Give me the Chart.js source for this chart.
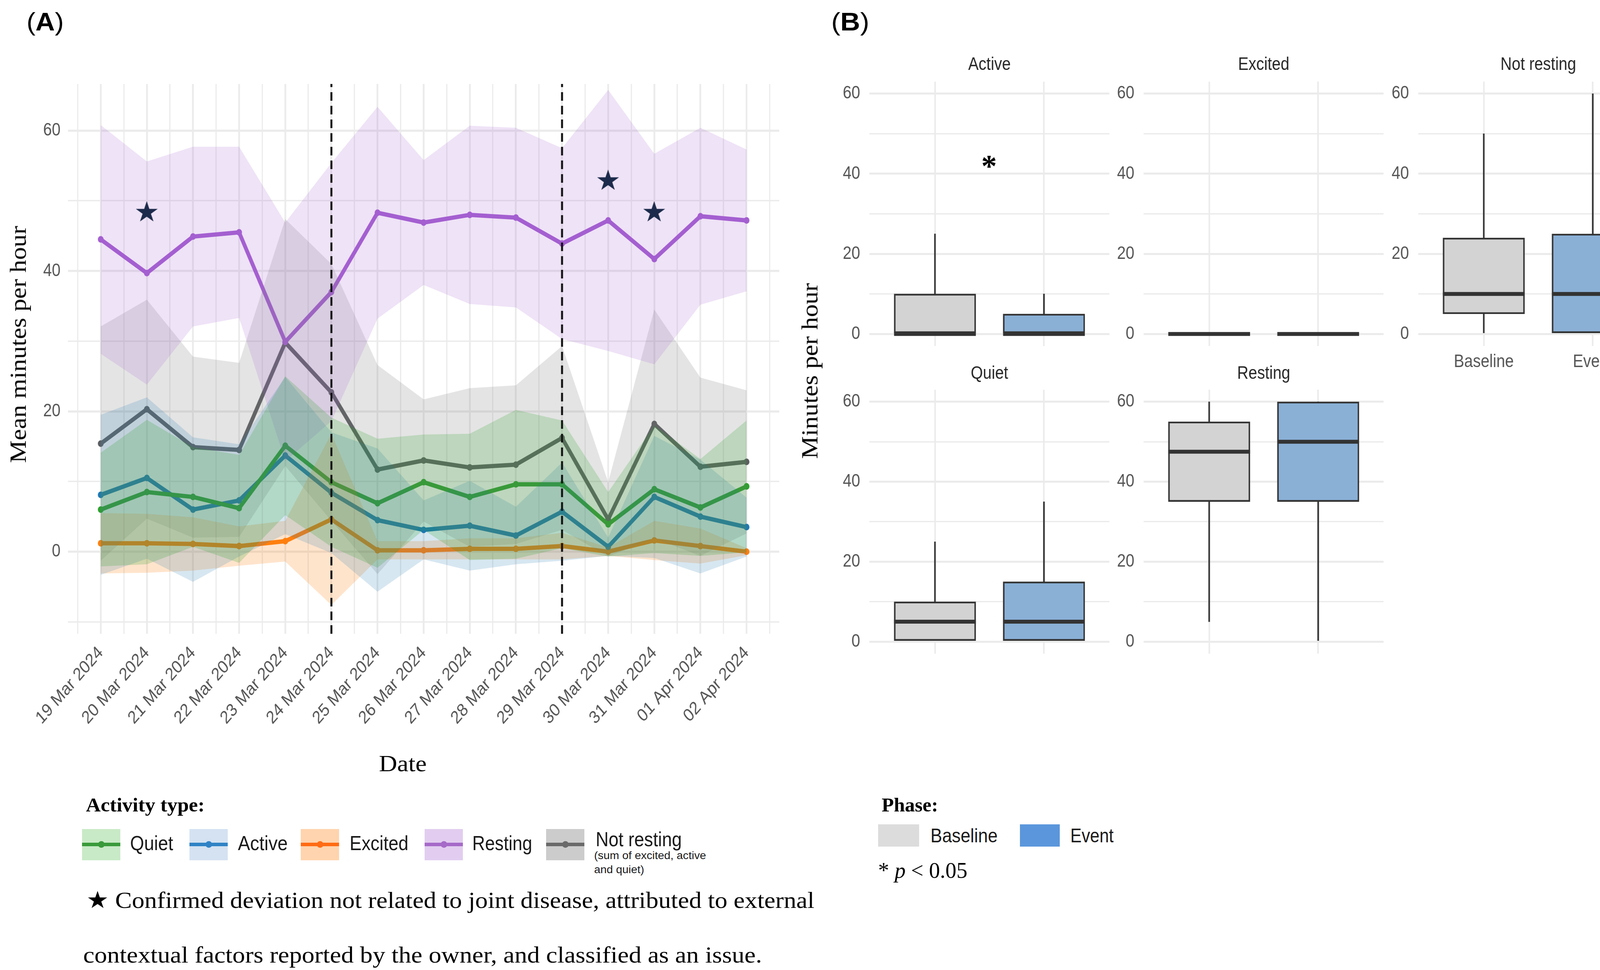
<!DOCTYPE html>
<html><head><meta charset="utf-8">
<script src="https://cdn.jsdelivr.net/npm/chart.js@4.4.1/dist/chart.umd.min.js"></script>
<style>
html,body{margin:0;padding:0;background:#fff;width:4255px;height:2484px;overflow:hidden;}
#root{position:relative;width:4255px;height:2484px;overflow:hidden;background:#fff;}
.sq{position:absolute;transform-origin:0 0;}
.t{position:absolute;white-space:nowrap;line-height:1.2;transform-origin:0 0;}
.bm{display:inline-block;width:0;height:0;vertical-align:baseline;}
.sw{position:absolute;}
</style></head>
<body><div id="root"></div>
<script>
// ---------------- DATA ----------------
const dates = ['19 Mar 2024','20 Mar 2024','21 Mar 2024','22 Mar 2024','23 Mar 2024','24 Mar 2024','25 Mar 2024','26 Mar 2024','27 Mar 2024','28 Mar 2024','29 Mar 2024','30 Mar 2024','31 Mar 2024','01 Apr 2024','02 Apr 2024'];

const quietMean  = [6.0, 8.5, 7.8, 6.2, 15.1, 9.9, 6.9, 9.9, 7.8, 9.6, 9.6, 3.9, 8.9, 6.3, 9.3];
const quietUpper = [14.1, 18.8, 14.9, 13.8, 25.0, 19.1, 16.1, 16.7, 16.8, 20.2, 18.7, 8.5, 18.0, 13.2, 18.7];
const quietLower = [-2.1, -1.8, 0.7, -1.6, 5.2, 0.7, -2.3, 3.1, -1.2, -1.0, 0.5, -0.7, -0.2, -0.6, -0.1];

const activeMean  = [8.1, 10.5, 6.0, 7.3, 13.7, 8.4, 4.5, 3.1, 3.7, 2.3, 5.7, 0.7, 7.8, 5.0, 3.5];
const activeUpper = [19.5, 22.0, 16.3, 15.3, 24.9, 17.0, 14.7, 7.3, 10.1, 6.4, 12.7, 2.0, 16.5, 13.1, 7.7];
const activeLower = [-3.3, -1.0, -4.3, -0.7, 2.5, -0.2, -5.7, -1.1, -2.7, -1.8, -1.3, -0.6, -0.9, -3.1, -0.7];

const excitedMean  = [1.2, 1.2, 1.1, 0.8, 1.5, 4.6, 0.2, 0.2, 0.4, 0.4, 0.8, 0.0, 1.6, 0.8, 0.0];
const excitedUpper = [5.5, 5.4, 4.9, 3.6, 4.4, 16.8, 1.5, 1.5, 1.9, 1.9, 2.7, 0.6, 4.4, 3.3, 0.5];
const excitedLower = [-3.1, -3.0, -2.7, -2.0, -1.4, -7.6, -1.1, -1.1, -1.1, -1.1, -1.1, -0.6, -1.2, -1.7, -0.5];

const restingMean  = [44.5, 39.7, 44.9, 45.5, 29.9, 37.0, 48.3, 46.9, 48.0, 47.6, 43.9, 47.2, 41.7, 47.8, 47.2];
const restingUpper = [60.8, 55.6, 57.7, 57.7, 46.9, 55.4, 63.4, 55.8, 60.7, 60.4, 57.5, 65.8, 56.7, 60.4, 57.3];
const restingLower = [28.2, 23.8, 32.1, 33.3, 12.9, 18.6, 33.2, 38.0, 35.3, 34.8, 30.3, 28.6, 26.7, 35.2, 37.1];

const notRestMean  = [15.4, 20.3, 14.9, 14.5, 29.8, 22.7, 11.7, 13.0, 12.0, 12.4, 16.2, 4.6, 18.2, 12.1, 12.8];
const notRestUpper = [32.1, 35.9, 27.8, 26.9, 47.4, 41.0, 26.6, 21.7, 23.3, 23.7, 29.3, 9.9, 34.5, 24.8, 23.0];
const notRestLower = [-1.3, 4.7, 2.0, 2.1, 12.2, 4.4, -3.2, 4.3, 0.7, 1.1, 3.1, -0.7, 1.9, -0.6, 2.6];

const eventDayIdx = [5, 10];          // dashed reference lines (24 Mar, 29 Mar)
const starDayIdx  = [1, 11, 12];      // 20 Mar, 30 Mar, 31 Mar
const starValues  = [48.5, 53.0, 48.5];

const yTicksA = [0, 20, 40, 60];

// Panel B box statistics: [min, Q1, median, Q3, max]
const phases = ['Baseline', 'Event'];
const activeBaseline   = [0, 0, 0, 10, 25];
const activeEvent      = [0, 0, 0, 5, 10];
const excitedBaseline  = [0, 0, 0, 0, 0];
const excitedEvent     = [0, 0, 0, 0, 0];
const notRestBaseline  = [0, 5, 10, 24, 50];
const notRestEvent     = [0, 0, 10, 25, 60];
const quietBaseline    = [0, 0, 5, 10, 25];
const quietEvent       = [0, 0, 5, 15, 35];
const restingBaseline  = [5, 35, 47.5, 55, 60];
const restingEvent     = [0, 35, 50, 60, 60];
const yTicksB = [0, 20, 40, 60];

// ---------------- STYLE / LAYOUT ----------------
const S = 0.87; // horizontal compression of the plotted figure
const SANS = "'Liberation Sans', Arial, sans-serif";
const SERIF = "'Liberation Serif', 'DejaVu Serif', serif";
const root = document.getElementById('root');
const GRID = '#ebebeb';

function makeCanvas(leftFull, topFull, wU, h) {
  const wrap = document.createElement('div');
  wrap.className = 'sq';
  wrap.style.left = leftFull + 'px'; wrap.style.top = topFull + 'px';
  wrap.style.width = wU + 'px'; wrap.style.height = h + 'px';
  wrap.style.transform = 'scaleX(' + S + ')';
  const c = document.createElement('canvas');
  c.width = wU; c.height = h;
  c.style.width = wU + 'px'; c.style.height = h + 'px';
  wrap.appendChild(c); root.appendChild(wrap);
  return c;
}

function starImage(w, h, color) {
  const c = document.createElement('canvas');
  c.width = Math.ceil(w); c.height = Math.ceil(h);
  const g = c.getContext('2d');
  g.fillStyle = color; g.beginPath();
  for (let i = 0; i < 10; i++) {
    const ang = -Math.PI / 2 + i * Math.PI / 5;
    const rr = i % 2 === 0 ? 1 : 0.382;
    const px = Math.cos(ang) * rr, py = Math.sin(ang) * rr;
    const X = (px + 0.951) / 1.902 * w, Y = (py + 1) / 1.809 * h;
    if (i) g.lineTo(X, Y); else g.moveTo(X, Y);
  }
  g.closePath(); g.fill();
  return c;
}

// ---------------- PANEL A ----------------
(function () {
  const wU = Math.ceil(2050 / S), H = 1900;
  const left = 174 / S, right = 1995 / S, top = 215, bottom = 1623;
  const yMin = -11.7, yMax = 66.65, xMin = -0.71, xMax = 14.71;
  const canvas = makeCanvas(0, 0, wU, H);
  const pts = arr => arr.map((v, i) => ({ x: i, y: v }));
  const series = [
    { mean: quietMean,   up: quietUpper,   lo: quietLower,   color: '#2ca02c', fill: 'rgba(44,160,44,0.21)' },
    { mean: activeMean,  up: activeUpper,  lo: activeLower,  color: '#1f78b4', fill: 'rgba(31,120,180,0.18)' },
    { mean: excitedMean, up: excitedUpper, lo: excitedLower, color: '#ff7f0e', fill: 'rgba(255,127,14,0.21)' },
    { mean: restingMean, up: restingUpper, lo: restingLower, color: '#a45fd0', fill: 'rgba(164,95,208,0.175)' },
    { mean: notRestMean, up: notRestUpper, lo: notRestLower, color: '#5b5d60', fill: 'rgba(127,127,127,0.21)' }
  ];
  const ds = [];
  ds.push({ type: 'scatter', data: starDayIdx.map((d, i) => ({ x: d, y: starValues[i] })),
            pointStyle: starImage(56 / S, 52, '#1c2b4b'), pointRadius: 20, order: 0 });
  eventDayIdx.forEach(d => ds.push({ type: 'line', data: [{ x: d, y: yMin }, { x: d, y: yMax }],
            borderColor: '#111', borderWidth: 5 / S, borderDash: [22, 13], pointRadius: 0, fill: false, order: 0 }));
  series.forEach(s => {
    ds.push({ type: 'line', data: pts(s.up), fill: '+1', backgroundColor: s.fill, borderColor: 'transparent',
              borderWidth: 0, pointRadius: 0, order: 1 });
    ds.push({ type: 'line', data: pts(s.lo), fill: false, borderColor: 'transparent', borderWidth: 0, pointRadius: 0, order: 1 });
  });
  series.forEach(s => ds.push({ type: 'line', data: pts(s.mean), borderColor: s.color, borderWidth: 11,
            pointRadius: 8.5, pointBackgroundColor: s.color, pointBorderWidth: 0, fill: false, order: 2, tension: 0 }));

  new Chart(canvas, {
    type: 'line',
    data: { datasets: ds },
    options: {
      responsive: false, animation: false, devicePixelRatio: 1, events: [],
      layout: { autoPadding: false, padding: { left: 0, top: top, right: wU - right, bottom: 0 } },
      plugins: { legend: { display: false }, tooltip: { enabled: false }, title: { display: false } },
      scales: {
        x: { type: 'linear', min: xMin, max: xMax, offset: false,
             grid: { color: GRID, drawTicks: false, offset: false,
                     lineWidth: c => (c.tick && Number.isInteger(c.tick.value)) ? 4.5 / S : 3 / S },
             border: { display: false },
             ticks: { stepSize: 0.5, includeBounds: false, autoSkip: false, minRotation: 45, maxRotation: 45,
                      padding: 22, color: '#555', font: { family: SANS, size: 46 },
                      callback: v => Number.isInteger(v) ? dates[v] : '' },
             afterFit: s => { s.height = H - bottom; } },
        y: { type: 'linear', min: yMin, max: yMax,
             grid: { color: GRID, drawTicks: false,
                     lineWidth: c => (c.tick && yTicksA.includes(c.tick.value)) ? 5.5 : 3.5 },
             border: { display: false },
             ticks: { stepSize: 10, includeBounds: false, padding: 19 / S, color: '#555',
                      font: { family: SANS, size: 46 },
                      callback: v => yTicksA.includes(v) ? String(v) : '' },
             afterFit: s => { s.width = left; } }
      }
    }
  });
})();

// ---------------- PANEL B ----------------
const facets = [
  { name: 'Active',      base: activeBaseline,  ev: activeEvent,  pl: 2226, pt: 209, pb: 886,  ty: 166, xlab: false },
  { name: 'Excited',     base: excitedBaseline, ev: excitedEvent, pl: 2928, pt: 209, pb: 886,  ty: 166, xlab: false },
  { name: 'Not resting', base: notRestBaseline, ev: notRestEvent, pl: 3631, pt: 209, pb: 886,  ty: 166, xlab: true },
  { name: 'Quiet',       base: quietBaseline,   ev: quietEvent,   pl: 2226, pt: 998, pb: 1674, ty: 957, xlab: false },
  { name: 'Resting',     base: restingBaseline, ev: restingEvent, pl: 2928, pt: 998, pb: 1674, ty: 957, xlab: false }
];
facets.forEach(f => {
  const PW = 614, LM = 110, RM = 10, TM = 100, BM = 80;
  const wU = Math.ceil((LM + PW + RM) / S);
  const chartLeft = LM / S, chartRight = chartLeft + PW / S;
  const H = TM + (f.pb - f.pt) + BM;
  const canvas = makeCanvas(f.pl - LM, f.pt - TM, wU, H);
  const pxPerUnit = (PW / S) / 2.2;
  const boxW = 0.75 * pxPerUnit;
  const titleRel = f.ty - (f.pt - TM);
  const lh = 46 * 1.2;
  const padTop = titleRel - lh / 2, padBot = TM - padTop - lh;
  const stats = [f.base, f.ev];
  new Chart(canvas, {
    type: 'bar',
    data: { datasets: [
      { type: 'bar', data: stats.map((s, i) => ({ x: i + 1, y: [s[0], s[4]] })), backgroundColor: '#333',
        borderWidth: 0, barThickness: 3.6 / S, grouped: false, order: 3 },
      { type: 'bar', data: stats.map((s, i) => ({ x: i + 1, y: [s[1], s[3]] })), backgroundColor: ['#d3d3d3', '#8ab0d6'],
        borderColor: '#333', borderWidth: 4.5, borderSkipped: false, barThickness: boxW, grouped: false, order: 2 },
      { type: 'scatter', data: stats.map((s, i) => ({ x: i + 1, y: s[2] })), pointStyle: 'line',
        pointRadius: boxW / 2, pointBorderWidth: 10, pointBorderColor: '#333', order: 1 }
    ] },
    options: {
      responsive: false, animation: false, devicePixelRatio: 1, events: [],
      layout: { autoPadding: false, padding: { left: 0, top: 0, right: wU - chartRight, bottom: 0 } },
      plugins: {
        legend: { display: false }, tooltip: { enabled: false },
        title: { display: true, text: f.name, fullSize: false, color: '#262626',
                 font: { family: SANS, size: 46, weight: 'normal', lineHeight: 1.2 },
                 padding: { top: padTop, bottom: padBot } }
      },
      scales: {
        x: { type: 'linear', min: 0.4, max: 2.6, offset: false,
             grid: { color: GRID, drawTicks: false, offset: false, lineWidth: 4 / S },
             border: { display: false },
             ticks: { stepSize: 1, includeBounds: false, autoSkip: false, maxRotation: 0, display: f.xlab,
                      padding: 14, color: '#555', font: { family: SANS, size: 46 },
                      callback: v => phases[v - 1] || '' },
             afterFit: s => { s.height = BM; } },
        y: { type: 'linear', min: -3, max: 63,
             grid: { color: GRID, drawTicks: false,
                     lineWidth: c => (c.tick && yTicksB.includes(c.tick.value)) ? 5 : 3.2 },
             border: { display: false },
             ticks: { stepSize: 10, includeBounds: false, padding: 24 / S, color: '#555',
                      font: { family: SANS, size: 46 },
                      callback: v => yTicksB.includes(v) ? String(v) : '' },
             afterFit: s => { s.width = chartLeft; } }
      }
    }
  });
});

// ---------------- TEXT ----------------
function addText(html, o) {
  const d = document.createElement('div');
  d.className = 't';
  d.style.fontFamily = o.family || SERIF;
  d.style.fontSize = o.size + 'px';
  d.style.fontWeight = o.weight || 'normal';
  d.style.fontStyle = o.style || 'normal';
  d.style.color = o.color || '#000';
  d.innerHTML = html + '<span class="bm"></span>';
  root.appendChild(d);
  const w = d.offsetWidth, h = d.offsetHeight, base = d.querySelector('.bm').offsetTop;
  const sx = o.w ? o.w / w : 1;
  if (o.rot) {
    d.style.left = (o.cx - w / 2) + 'px';
    d.style.top = (o.cy - h / 2) + 'px';
    d.style.transformOrigin = '50% 50%';
    d.style.transform = 'rotate(-90deg) scaleX(' + sx + ')';
  } else {
    const left = (o.cx !== undefined) ? o.cx - w * sx / 2 : o.x;
    d.style.left = left + 'px';
    d.style.top = (o.base - base) + 'px';
    d.style.transform = 'scaleX(' + sx + ')';
  }
  return d;
}

addText('(<b>A</b>)', { family: SANS, size: 65, x: 68, base: 78, w: 95 });
addText('(<b>B</b>)', { family: SANS, size: 65, x: 2128, base: 78, w: 97 });
addText('Mean minutes per hour', { size: 60, rot: true, cx: 46, cy: 882, w: 607 });
addText('Date', { size: 60, cx: 1031, base: 1975, w: 122 });
addText('Minutes per hour', { size: 60, rot: true, cx: 2072, cy: 950, w: 450 });
addText('*', { size: 80, weight: 'bold', cx: 2532, base: 452, w: 40 });

// Panel A legend
addText('<b>Activity type:</b>', { size: 51, x: 220, base: 2078, w: 304 });
const legendA = [
  { label: 'Quiet',   x: 210,  tx: 333,  tw: 110, bg: '#c8eac6', line: '#3a9a3a' },
  { label: 'Active',  x: 485,  tx: 609,  tw: 128, bg: '#d4e2f2', line: '#2f83c5' },
  { label: 'Excited', x: 770,  tx: 895,  tw: 151, bg: '#ffd4ae', line: '#ff6c14' },
  { label: 'Resting', x: 1087, tx: 1209, tw: 153, bg: '#e2cdf0', line: '#a66ac8' },
  { label: 'Not resting', x: 1398, tx: 1525, tw: 220, bg: '#cccccc', line: '#6a6a6a' }
];
legendA.forEach(l => {
  const sw = document.createElement('div');
  sw.className = 'sw';
  Object.assign(sw.style, { left: l.x + 'px', top: '2123px', width: '98px', height: '80px', background: l.bg });
  const ln = document.createElement('div');
  ln.className = 'sw';
  Object.assign(ln.style, { left: '0px', top: '35px', width: '98px', height: '9px', background: l.line });
  const dot = document.createElement('div');
  dot.className = 'sw';
  Object.assign(dot.style, { left: '41px', top: '31px', width: '17px', height: '17px', borderRadius: '50%', background: l.line });
  sw.appendChild(ln); sw.appendChild(dot); root.appendChild(sw);
  addText(l.label, { family: SANS, size: 52, x: l.tx, base: l.label === 'Not resting' ? 2167 : 2177, w: l.tw, color: '#1a1a1a' });
});
addText('(sum of excited, active', { family: SANS, size: 27, x: 1521, base: 2200, w: 287, color: '#1a1a1a' });
addText('and quiet)', { family: SANS, size: 27, x: 1521, base: 2236, w: 128, color: '#1a1a1a' });

addText('\u2605 Confirmed deviation not related to joint disease, attributed to external', { size: 60, x: 221, base: 2325, w: 1864 });
addText('contextual factors reported by the owner, and classified as an issue.', { size: 60, x: 213, base: 2465, w: 1738 });

// Panel B legend
addText('<b>Phase:</b>', { size: 51, x: 2257, base: 2078, w: 144 });
[{ x: 2248, w: 105, bg: '#dcdcdc' }, { x: 2611, w: 102, bg: '#5b96dc' }].forEach(s => {
  const sw = document.createElement('div');
  sw.className = 'sw';
  Object.assign(sw.style, { left: s.x + 'px', top: '2111px', width: s.w + 'px', height: '57px', background: s.bg });
  root.appendChild(sw);
});
addText(phases[0], { family: SANS, size: 50, x: 2382, base: 2157, w: 172, color: '#1a1a1a' });
addText(phases[1], { family: SANS, size: 50, x: 2740, base: 2157, w: 111, color: '#1a1a1a' });
addText('* <i>p</i> &lt; 0.05', { size: 56, x: 2248, base: 2248, w: 229 });
</script>
</body></html>
